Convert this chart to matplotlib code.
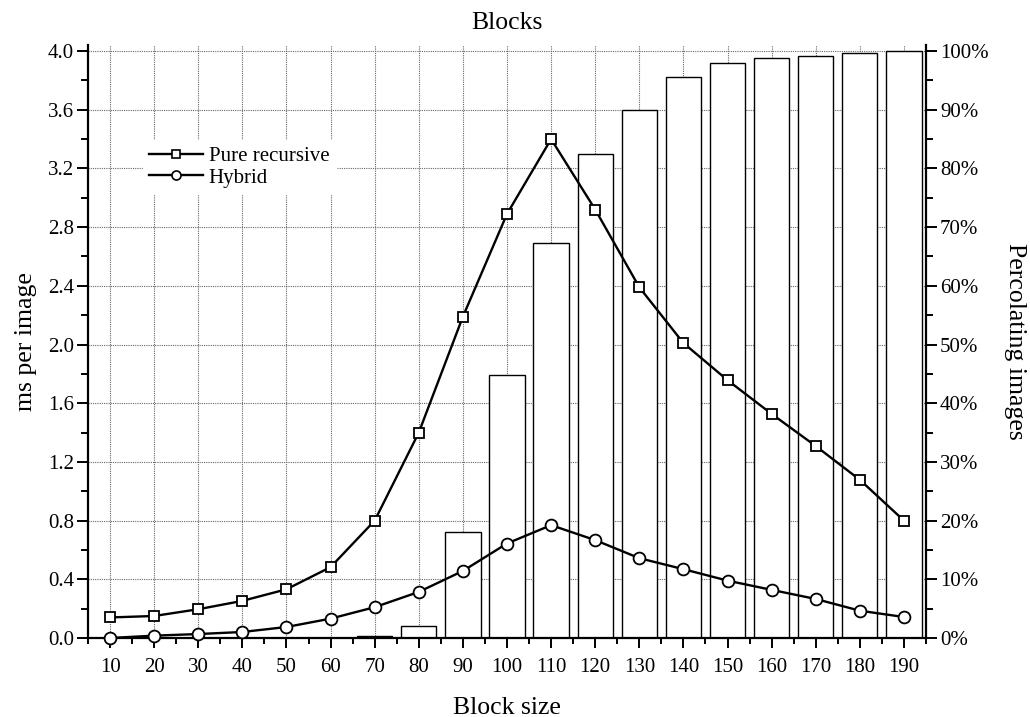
import matplotlib
matplotlib.use("Agg")
import matplotlib.pyplot as plt
from matplotlib.ticker import MultipleLocator, FuncFormatter
from matplotlib.lines import Line2D

plt.rcParams['font.family'] = ['Liberation Serif', 'DejaVu Serif']

# Block sizes tested
block_size = [10, 20, 30, 40, 50, 60, 70, 80, 90, 100,
              110, 120, 130, 140, 150, 160, 170, 180, 190]

# Average time per image (ms)
pure_recursive = [0.14, 0.15, 0.196, 0.253, 0.332, 0.483, 0.80, 1.40, 2.19, 2.89,
                  3.40, 2.92, 2.39, 2.01, 1.757, 1.527, 1.308, 1.078, 0.80]
hybrid = [0.0, 0.016, 0.027, 0.041, 0.075, 0.132, 0.21, 0.314, 0.457, 0.644,
          0.769, 0.667, 0.544, 0.469, 0.391, 0.328, 0.266, 0.186, 0.143]

# Share of images that percolate (%)
percolating = [0, 0, 0, 0, 0, 0, 0.3, 2.0, 18.1, 44.8,
               67.3, 82.5, 90.0, 95.6, 97.9, 98.8, 99.1, 99.7, 100.0]

W, H = 1030, 717
fig = plt.figure(figsize=(W / 100, H / 100), dpi=100)
left, right, bottom, top = 88, 926, 638, 45
ax = fig.add_axes([left / W, (H - bottom) / H, (right - left) / W, (bottom - top) / H])
ax2 = ax.twinx()

# Lines drawn above the bars
ax.set_zorder(ax2.get_zorder() + 1)
ax.patch.set_visible(False)

# Bars on the percentage axis
ax2.bar(block_size, percolating, width=8, color='white', edgecolor='black',
        linewidth=1.0, zorder=2)

ax.set_xlim(5, 195)
ax.set_ylim(0, 4.0 * 1.0103)
ax2.set_ylim(0, 100 * 1.0103)

ax.set_xticks(block_size)
ax.xaxis.set_minor_locator(MultipleLocator(5))
ax.yaxis.set_major_locator(MultipleLocator(0.4))
ax.yaxis.set_minor_locator(MultipleLocator(0.2))
ax.yaxis.set_major_formatter(FuncFormatter(lambda v, p: f"{v:.1f}"))
ax2.yaxis.set_major_locator(MultipleLocator(10))
ax2.yaxis.set_minor_locator(MultipleLocator(5))
ax2.yaxis.set_major_formatter(FuncFormatter(lambda v, p: f"{v:.0f}%"))

# Dotted grid behind the bars (kept on the lower axes)
ax2.xaxis.set_visible(True)
ax2.tick_params(axis='x', which='both', bottom=False, top=False,
                labelbottom=False, labeltop=False)
grid_kw = dict(color='0.4', linestyle=(0, (1, 1)), linewidth=0.8)
ax2.grid(True, which='major', axis='both', **grid_kw)
ax2.set_axisbelow(True)

ax.plot(block_size, pure_recursive, color='black', linewidth=1.7, marker='s',
        markersize=7.5, markerfacecolor='white', markeredgecolor='black',
        markeredgewidth=1.3, zorder=5, clip_on=False, label='Pure recursive')
ax.plot(block_size, hybrid, color='black', linewidth=1.7, marker='o',
        markersize=8.5, markerfacecolor='white', markeredgecolor='black',
        markeredgewidth=1.3, zorder=5, clip_on=False, label='Hybrid')

for a in (ax, ax2):
    a.spines['top'].set_visible(False)
    for s in ('left', 'right', 'bottom'):
        a.spines[s].set_linewidth(1.6)

ax.spines['right'].set_visible(False)
ax2.spines['left'].set_visible(False)
ax2.spines['bottom'].set_visible(False)

ax.tick_params(axis='x', which='major', direction='out', length=7.5, width=1.4,
               labelsize=15, pad=7)
ax.tick_params(axis='x', which='minor', direction='out', length=4, width=1.4)
ax.tick_params(axis='y', which='major', direction='out', length=8, width=1.4,
               labelsize=15, pad=2)
ax.tick_params(axis='y', which='minor', direction='out', length=5, width=1.4)
ax2.tick_params(axis='y', which='major', direction='out', length=8, width=1.4,
                labelsize=15, pad=2)
ax2.tick_params(axis='y', which='minor', direction='out', length=5, width=1.4)

ax.set_xlabel('Block size', fontsize=18.5, labelpad=14)
ax.set_ylabel('ms per image', fontsize=18.5, labelpad=8)
ax2.set_ylabel('Percolating images', fontsize=18.5, rotation=270, labelpad=27)
fig.text((left + right) / 2 / W, 1 - 23 / H, 'Blocks', fontsize=18.5,
         ha='center', va='center')

handles = [
    Line2D([], [], color='black', linewidth=1.7, marker='s', markersize=6,
           markerfacecolor='white', markeredgecolor='black', markeredgewidth=1.2),
    Line2D([], [], color='black', linewidth=1.7, marker='o', markersize=6.5,
           markerfacecolor='white', markeredgecolor='black', markeredgewidth=1.2),
]
leg = ax.legend(handles, ['Pure recursive', 'Hybrid'], loc='upper left',
                bbox_to_anchor=((143 - left) / (right - left), (bottom - 140) / (bottom - top)),
                fontsize=15, frameon=True, fancybox=False, framealpha=1.0,
                edgecolor='white', facecolor='white', handlelength=2.6,
                handletextpad=0.25, borderpad=0.3, labelspacing=0.1,
                borderaxespad=0)

fig.savefig('out.png', dpi=100)
